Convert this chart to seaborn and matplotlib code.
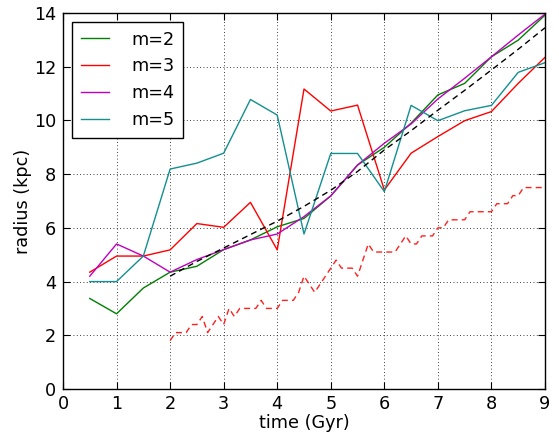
import numpy as np
import pandas as pd
import matplotlib
matplotlib.use("Agg")
import matplotlib.pyplot as plt
import seaborn as sns

# ---------------- data ----------------
time = [0.5, 1.0, 1.5, 2.0, 2.5, 3.0, 3.5, 4.0, 4.5, 5.0, 5.5, 6.0, 6.5, 7.0, 7.5, 8.0, 8.5, 9.0]
m2 = [3.37, 2.80, 3.76, 4.35, 4.57, 5.19, 5.55, 6.04, 6.35, 7.19, 8.34, 9.00, 9.90, 10.95, 11.38, 12.37, 12.99, 13.92]
m3 = [4.35, 4.95, 4.95, 5.18, 6.16, 6.02, 6.95, 5.18, 11.17, 10.35, 10.57, 7.41, 8.78, 9.40, 9.99, 10.33, 11.38, 12.35]
m4 = [4.20, 5.40, 4.95, 4.35, 4.82, 5.19, 5.55, 5.77, 6.42, 7.19, 8.34, 9.15, 9.87, 10.80, 11.57, 12.37, 13.18, 13.96]
m5 = [4.00, 4.00, 4.95, 8.19, 8.41, 8.78, 10.78, 10.20, 5.77, 8.77, 8.77, 7.35, 10.56, 9.99, 10.36, 10.56, 11.79, 12.15]

ref_time = [2.0, 2.5, 3.0, 3.5, 4.0, 4.5, 5.0, 5.5, 6.0, 6.5, 7.0, 7.5, 8.0, 8.5, 9.0]
ref_radius = [4.20, 4.75, 5.25, 5.75, 6.25, 6.80, 7.40, 8.10, 8.90, 9.62, 10.38, 11.12, 11.88, 12.65, 13.45]

cr_time = [2.0, 2.1, 2.2, 2.3, 2.4, 2.5, 2.6, 2.7, 2.8, 2.9,
           3.0, 3.1, 3.2, 3.3, 3.4, 3.5, 3.6, 3.7, 3.8, 3.9,
           4.0, 4.1, 4.2, 4.3, 4.4, 4.5, 4.6, 4.7, 4.8, 4.9,
           5.0, 5.1, 5.2, 5.3, 5.4, 5.5, 5.6, 5.7, 5.8, 5.9,
           6.0, 6.1, 6.2, 6.3, 6.4, 6.5, 6.6, 6.7, 6.8, 6.9,
           7.0, 7.1, 7.2, 7.3, 7.4, 7.5, 7.6, 7.7, 7.8, 7.9,
           8.0, 8.1, 8.2, 8.3, 8.4, 8.5, 8.6, 8.7, 8.8, 8.9, 9.0]
cr_radius = [1.8, 2.1, 2.1, 2.1, 2.4, 2.4, 2.7, 2.1, 2.4, 2.7,
             2.4, 3.0, 2.7, 3.0, 3.0, 3.0, 3.0, 3.3, 3.0, 3.0,
             3.0, 3.3, 3.3, 3.3, 3.6, 4.2, 3.9, 3.6, 3.9, 4.2,
             4.5, 4.8, 4.5, 4.5, 4.5, 4.2, 4.8, 5.4, 5.1, 5.1,
             5.1, 5.1, 5.1, 5.4, 5.7, 5.4, 5.4, 5.7, 5.7, 5.7,
             6.0, 6.0, 6.3, 6.3, 6.3, 6.3, 6.6, 6.6, 6.6, 6.6,
             6.6, 6.9, 6.9, 6.9, 7.2, 7.2, 7.5, 7.5, 7.5, 7.5, 7.5]

labels = ["m=2", "m=3", "m=4", "m=5"]
colors = ["#008000", "#ff0000", "#c000c0", "#138f8f"]

xticks = [0, 1, 2, 3, 4, 5, 6, 7, 8, 9]
yticks = [0, 2, 4, 6, 8, 10, 12, 14]

# ---------------- style ----------------
plt.rcParams.update({
    "font.family": ["DejaVu Sans"],
    "font.size": 12.7,
    "xtick.direction": "in",
    "ytick.direction": "in",
    "xtick.top": True,
    "ytick.right": True,
    "xtick.major.size": 5,
    "ytick.major.size": 5,
    "xtick.major.pad": 4,
    "ytick.major.pad": 5,
    "axes.linewidth": 1.0,
})

fig = plt.figure(figsize=(5.59, 4.34), dpi=100)
ax = fig.add_axes([63 / 559, 1 - 389 / 434, (545 - 63) / 559, (389 - 13) / 434])

df = pd.DataFrame({"time": time, "m=2": m2, "m=3": m3, "m=4": m4, "m=5": m5})
for lab, col in zip(labels, colors):
    sns.lineplot(data=df, x="time", y=lab, color=col, lw=1.0, label=lab, ax=ax)

sns.lineplot(x=ref_time, y=ref_radius, color="k", lw=1.0, ax=ax,
             linestyle=(0, (4.3, 3.0)))
sns.lineplot(x=cr_time, y=cr_radius, color="#ff2020", lw=1.0, ax=ax,
             linestyle=(0, (4.3, 3.0)))

ax.set_xlim(0, 9)
ax.set_ylim(0, 14)
ax.set_xticks(xticks)
ax.set_yticks(yticks)
ax.grid(True, color="k", linestyle=(0, (1, 3)), linewidth=0.6)
ax.set_xlabel("time (Gyr)", labelpad=1)
ax.set_ylabel("radius (kpc)", labelpad=1)
for s in ax.spines.values():
    s.set_color("k")

leg = ax.legend(loc="upper left", fancybox=False, framealpha=1, edgecolor="k",
                handlelength=1.6, handletextpad=1.25, labelspacing=0.5,
                borderpad=0.5, borderaxespad=0.5)
leg.get_frame().set_linewidth(1.0)

fig.savefig("out.png", dpi=100, facecolor="white")
